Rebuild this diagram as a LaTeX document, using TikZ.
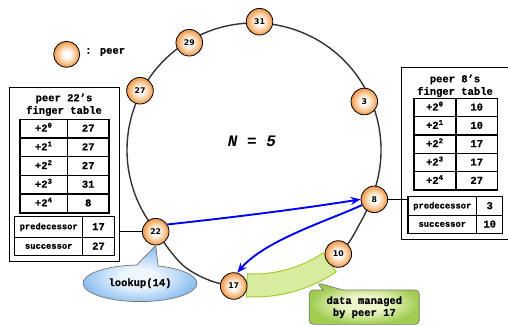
\documentclass[tikz,border=0pt]{standalone}
\usepackage{fontspec}
\newfontfamily\cour[BoldFeatures={FakeBold=0.6}]{Liberation Mono}
\newfontfamily\dvs{DejaVu Sans}
\usetikzlibrary{shapes.callouts,shapes.geometric,arrows.meta,calc}
\definecolor{pOrange}{RGB}{240,148,68}
\definecolor{pMid}{RGB}{250,205,160}
\definecolor{ringgray}{RGB}{51,51,51}
\definecolor{bandfill}{RGB}{216,236,160}
\definecolor{banddraw}{RGB}{168,204,48}
\definecolor{lkblue}{RGB}{140,190,240}
\definecolor{lklight}{RGB}{238,246,255}
\definecolor{dmgreen}{RGB}{160,204,80}
\definecolor{dmlight}{RGB}{236,246,200}
\definecolor{cgray}{RGB}{120,120,120}
\pgfdeclareradialshading{peerball}{\pgfpoint{0bp}{0bp}}{color(0bp)=(white); color(6bp)=(white); color(16bp)=(pMid); color(25bp)=(pOrange); color(50bp)=(pOrange)}
\pgfdeclareradialshading{lkshade}{\pgfpoint{0bp}{-4bp}}{color(0bp)=(lklight); color(8bp)=(lklight); color(25bp)=(lkblue); color(50bp)=(lkblue)}
\pgfdeclareradialshading{dmshade}{\pgfpoint{0bp}{0bp}}{color(0bp)=(dmlight); color(10bp)=(dmlight); color(25bp)=(dmgreen); color(50bp)=(dmgreen)}
\begin{document}
\begin{tikzpicture}[x=1pt,y=-1pt,
  peer/.style={circle, draw=black, line width=0.8pt, minimum size=26.6pt, inner sep=0pt, shading=peerball, font=\dvs\bfseries\fontsize{7.8}{8}\selectfont},
  ring/.style={draw=ringgray, line width=1.4pt},
  cell/.style={font=\cour\bfseries\fontsize{10.5}{11}\selectfont, inner sep=0pt, text height=6pt, text depth=0pt},
  scell/.style={font=\cour\bfseries\fontsize{8.8}{9}\selectfont, inner sep=0pt, text height=4.5pt, text depth=0pt},
  ttl/.style={font=\cour\bfseries\fontsize{10.5}{11}\selectfont, inner sep=0pt},
  tline/.style={line width=1.6pt},
  sline/.style={line width=1.2pt},
  boxline/.style={line width=0.8pt},
  msg/.style={draw=blue, line width=1.9pt, -{Stealth[length=10pt,width=8pt]}},
  frame/.style={draw, inner sep=0pt},
]
\useasboundingbox (0,0) rectangle (508,325);

% ring: upper arc (circle) and lower part
\draw[ring] ([shift={(254,150)}]22:127) arc[start angle=22, end angle=-220, radius=127];
\draw[ring] plot[smooth, tension=0.6] coordinates {(156.7,231.6) (186.7,268.3) (233.7,286) (290,278) (338.3,254) (360.7,222) (371.8,197.6)};

% data band
\path[draw=banddraw, fill=bandfill, line width=1pt] ([shift={(254,150)}]56:124) arc[start angle=56, end angle=93, radius=124] -- ([shift={(254,150)}]93:147) arc[start angle=93, end angle=56, radius=147] -- cycle;
\coordinate (bt) at ([shift={(254,150)}]64.6:147);

% left table
\node[frame, boxline, minimum width=109.7pt, minimum height=174pt] (lbox) at (64.15,174.7) {};
\node[ttl] (lt1) at (64,98.5) {peer 22’s};
\node[ttl] (lt2) at (64,111) {finger table};
\node[frame, tline, minimum width=89pt, minimum height=93.4pt] (lft) at (64.5,166) {};
\draw[tline] (67.3,119.3) -- (67.3,212.7);
\foreach \yy in {137.98,156.66,175.34,194.02} \draw[tline] (20,\yy) -- (109,\yy);
\node[cell] (l0a) at (43.7,128.64) {+2\textsuperscript{0}};
\node[cell] (l0b) at (88.2,128.64) {27};
\node[cell] (l1a) at (43.7,147.32) {+2\textsuperscript{1}};
\node[cell] (l1b) at (88.2,147.32) {27};
\node[cell] (l2a) at (43.7,166.0) {+2\textsuperscript{2}};
\node[cell] (l2b) at (88.2,166.0) {27};
\node[cell] (l3a) at (43.7,184.68) {+2\textsuperscript{3}};
\node[cell] (l3b) at (88.2,184.68) {31};
\node[cell] (l4a) at (43.7,203.36) {+2\textsuperscript{4}};
\node[cell] (l4b) at (88.2,203.36) {8};
\node[frame, sline, minimum width=99.6pt, minimum height=39pt] (lps) at (64.5,236.2) {};
\draw[sline] (82.7,216.7) -- (82.7,255.7);
\draw[sline] (14.7,237.3) -- (114.3,237.3);
\node[scell] (lpa) at (48.7,227) {predecessor};
\node[cell] (lpb) at (98.5,227) {17};
\node[scell] (lsa) at (48.7,246.5) {successor};
\node[cell] (lsb) at (98.5,246.5) {27};

% right table
\node[frame, boxline, minimum width=108pt, minimum height=171.6pt] (rbox) at (455,153.5) {};
\node[ttl] (rt1) at (455,79.5) {peer 8’s};
\node[ttl] (rt2) at (455,92) {finger table};
\node[frame, tline, minimum width=83.6pt, minimum height=91.7pt] (rft) at (455.5,144.15) {};
\draw[tline] (456,98.3) -- (456,190);
\foreach \yy in {116.64,134.98,153.32,171.66} \draw[tline] (413.7,\yy) -- (497.3,\yy);
\node[cell] (r0a) at (434.8,107.47) {+2\textsuperscript{0}};
\node[cell] (r0b) at (476.7,107.47) {10};
\node[cell] (r1a) at (434.8,125.81) {+2\textsuperscript{1}};
\node[cell] (r1b) at (476.7,125.81) {10};
\node[cell] (r2a) at (434.8,144.15) {+2\textsuperscript{2}};
\node[cell] (r2b) at (476.7,144.15) {17};
\node[cell] (r3a) at (434.8,162.49) {+2\textsuperscript{3}};
\node[cell] (r3b) at (476.7,162.49) {17};
\node[cell] (r4a) at (434.8,180.83) {+2\textsuperscript{4}};
\node[cell] (r4b) at (476.7,180.83) {27};
\node[frame, sline, minimum width=94.7pt, minimum height=36.6pt] (rps) at (455.35,215) {};
\draw[sline] (476.7,196.7) -- (476.7,233.3);
\draw[sline] (408,215.7) -- (502.7,215.7);
\node[scell] (rpa) at (442.3,206.2) {predecessor};
\node[cell] (rpb) at (489.7,206.2) {3};
\node[scell] (rsa) at (442.3,224.5) {successor};
\node[cell] (rsb) at (489.7,224.5) {10};

% legend
\node[peer, minimum size=26pt] (leg) at (66.7,54.3) {};
\node[ttl, anchor=west] (legt) at (85,52) {: peer};

% centre label
\node[font=\cour\bfseries\itshape\fontsize{16}{16}\selectfont, inner sep=0pt] (nlab) at (252,141.7) {N = 5};

% peers
\node[peer] (p31) at (259.5,21.7) {31};
\node[peer] (p29) at (189.3,42.7) {29};
\node[peer] (p27) at (140,90.7) {27};
\node[peer] (p3) at (364.3,101.5) {3};
\node[peer] (p8) at (374.3,199.3) {8};
\node[peer] (p10) at (338.3,254) {10};
\node[peer] (p17) at (233.7,286) {17};
\node[peer] (p22) at (155.7,231.7) {22};

% table connectors
\draw[boxline] (p22.west) -- (lbox.east |- p22.west);
\draw[boxline] (p8.east) -- (rps.west |- p8.east);

% messages
\draw[msg] (p22.32) .. controls (230,217.7) and (300,209) .. (p8.west);
\draw[msg] (p8.205) .. controls (330,220) and (265,240) .. (p17.75);

% callouts
\node[ellipse callout, draw=cgray, line width=0.7pt, shading=lkshade, minimum width=114pt, minimum height=36.6pt, inner sep=0pt, callout absolute pointer={(p22.south)}, callout pointer arc=22, font=\cour\bfseries\fontsize{10.5}{11}\selectfont] (lk) at (140,283.3) {lookup(14)};
\node[rectangle callout, rounded corners=4pt, draw=cgray, line width=0.7pt, shading=dmshade, minimum width=110pt, minimum height=34.3pt, inner sep=0pt, callout absolute pointer={(bt)}, callout pointer width=20pt, align=center, font=\cour\bfseries\fontsize{10.5}{12}\selectfont] (dm) at (364.3,307.2) {data managed\\by peer 17};
\end{tikzpicture}
\end{document}
